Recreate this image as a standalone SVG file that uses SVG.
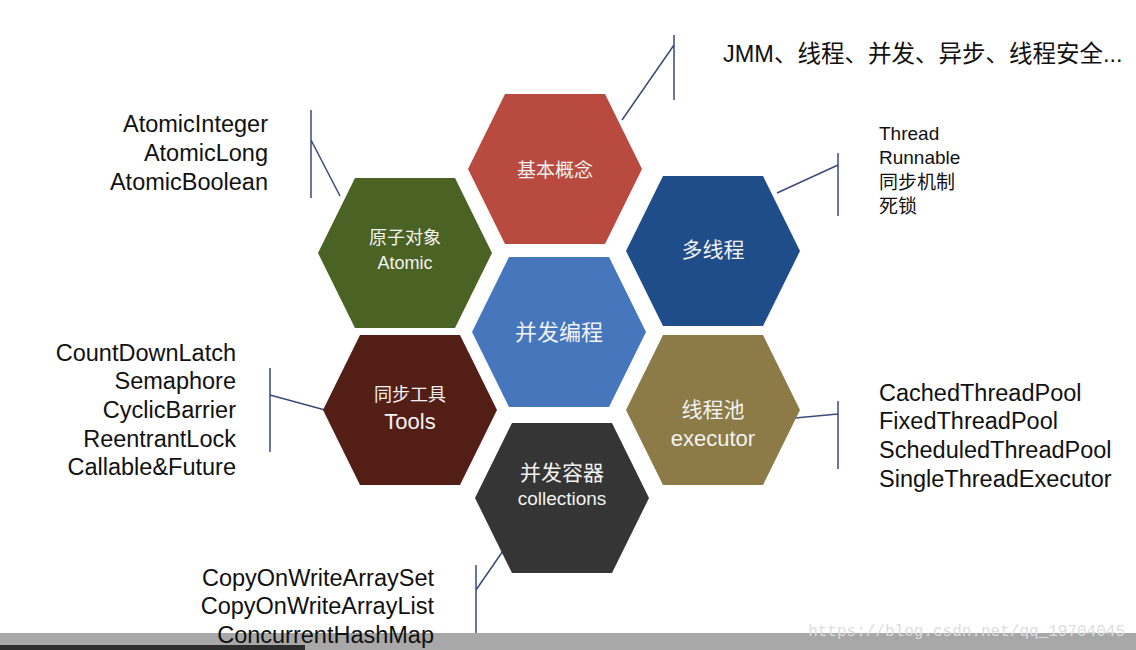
<svg xmlns="http://www.w3.org/2000/svg" width="1136" height="650" viewBox="0 0 1136 650">
<style>
.t{font-family:"Liberation Sans","Noto Sans CJK SC",sans-serif;fill:#111}
.h{font-family:"Liberation Sans","Noto Sans CJK SC",sans-serif;fill:#f2f2f2;text-anchor:middle}
.c{stroke:#3a4a7a;stroke-width:1.5;fill:none}
</style>
<defs><polygon id="hx" points="-87,0 -50,-75 50,-75 87,0 50,75 -50,75"/></defs>
<rect width="1136" height="650" fill="#fff"/>
<g id="connectors">
<path class="c" d="M674,35V100M622,120L674,45"/>
<path class="c" d="M311,110V198M311,140L340,196"/>
<path class="c" d="M838,153V216M838,165L777,193"/>
<path class="c" d="M270,368V452M270,395L325,410"/>
<path class="c" d="M838,401V469M838,414L795,418"/>
<path class="c" d="M476,565V650M476,590L505,548"/>
</g>
<g id="n1"><use href="#hx" x="555" y="169" fill="#b94a3f"/><text class="h" x="555" y="177" font-size="19">基本概念</text></g>
<g id="n2"><use href="#hx" x="405" y="253" fill="#4a6223"/><text class="h" x="405" y="244" font-size="18">原子对象</text><text class="h" x="405" y="269" font-size="18">Atomic</text></g>
<g id="n3"><use href="#hx" x="713" y="251" fill="#1f4d89"/><text class="h" x="713" y="257" font-size="21">多线程</text></g>
<g id="n0"><use href="#hx" x="559" y="332" fill="#4677bd"/><text class="h" x="559" y="340" font-size="22">并发编程</text></g>
<g id="n4"><use href="#hx" x="410" y="410" fill="#521e16"/><text class="h" x="410" y="401" font-size="18">同步工具</text><text class="h" x="410" y="429" font-size="22">Tools</text></g>
<g id="n5"><use href="#hx" x="713" y="410" fill="#8c7b46"/><text class="h" x="713" y="417" font-size="21">线程池</text><text class="h" x="713" y="446" font-size="22">executor</text></g>
<g id="n6"><use href="#hx" x="562" y="498" fill="#353535"/><text class="h" x="562" y="480" font-size="21">并发容器</text><text class="h" x="562" y="505" font-size="19">collections</text></g>
<text class="t" x="723" y="62" font-size="23.5">JMM、线程、并发、异步、线程安全...</text>
<g class="t" font-size="23.5" text-anchor="end"><text x="268" y="132">AtomicInteger</text><text x="268" y="161">AtomicLong</text><text x="268" y="190">AtomicBoolean</text></g>
<g class="t" font-size="19"><text x="879" y="140">Thread</text><text x="879" y="164">Runnable</text><text x="879" y="189">同步机制</text><text x="879" y="213">死锁</text></g>
<g class="t" font-size="23.5" text-anchor="end"><text x="236" y="361">CountDownLatch</text><text x="236" y="389">Semaphore</text><text x="236" y="418">CyclicBarrier</text><text x="236" y="447">ReentrantLock</text><text x="236" y="475">Callable&amp;Future</text></g>
<g class="t" font-size="23.5"><text x="879" y="401">CachedThreadPool</text><text x="879" y="429">FixedThreadPool</text><text x="879" y="458">ScheduledThreadPool</text><text x="879" y="487">SingleThreadExecutor</text></g>
<rect x="0" y="633" width="1136" height="17" fill="#a8a8a8"/>
<rect x="0" y="645" width="305" height="5" fill="#2e2e2e"/>
<g class="t" font-size="23.5" text-anchor="end"><text x="434" y="586">CopyOnWriteArraySet</text><text x="434" y="614">CopyOnWriteArrayList</text><text x="434" y="643">ConcurrentHashMap</text></g>
<text x="1125" y="636" font-size="16" text-anchor="end" font-family="Liberation Mono,monospace" fill="#ddd">https://blog.csdn.net/qq_19704045</text>
</svg>
